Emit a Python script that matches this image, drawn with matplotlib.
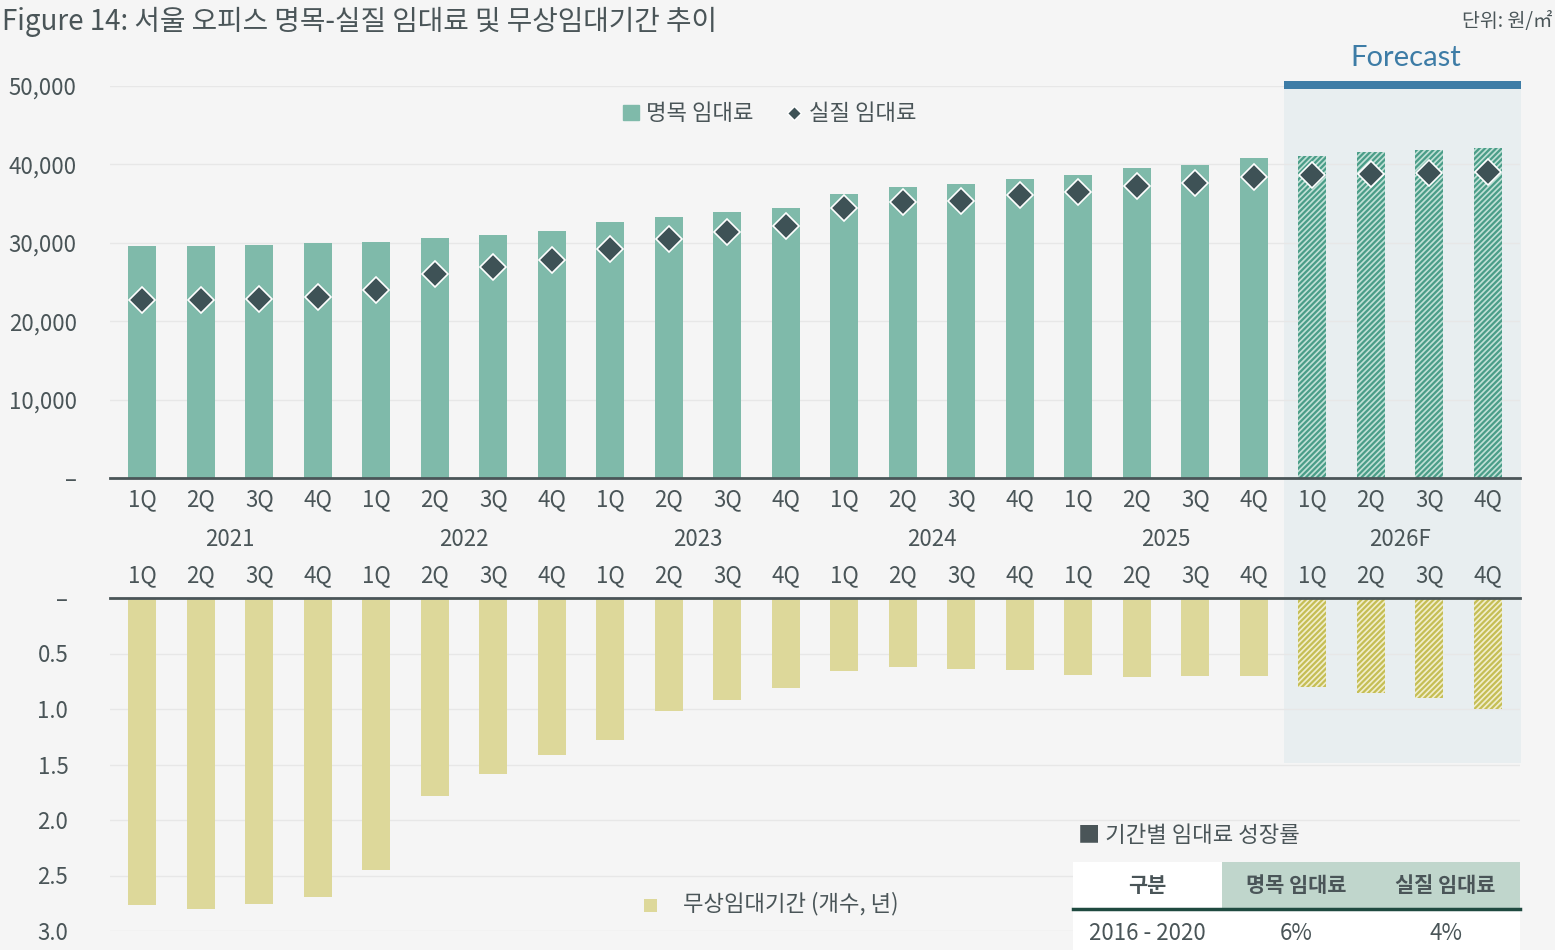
import matplotlib
matplotlib.use("Agg")
import matplotlib.pyplot as plt
from matplotlib.patches import Rectangle
from matplotlib.lines import Line2D
import numpy as np

plt.rcParams['font.family'] = ['Noto Sans CJK KR', 'DejaVu Sans']
plt.rcParams['hatch.linewidth'] = 1.6

# ---------------- data ----------------
years = ["2021", "2022", "2023", "2024", "2025", "2026F"]
quarters = ["1Q", "2Q", "3Q", "4Q"]
nominal_rent = [29600, 29600, 29700, 30000, 30100, 30600, 31000, 31500,
                32700, 33300, 33900, 34400, 36200, 37100, 37500, 38100,
                38600, 39500, 39900, 40800, 41100, 41600, 41800, 42100]
effective_rent = [22700, 22700, 22800, 23100, 24000, 26000, 26900, 27800,
                  29200, 30500, 31400, 32100, 34400, 35200, 35300, 36100,
                  36500, 37200, 37600, 38400, 38600, 38800, 38900, 39000]
rent_free = [2.77, 2.80, 2.76, 2.69, 2.45, 1.78, 1.59, 1.41,
             1.28, 1.02, 0.92, 0.81, 0.66, 0.62, 0.64, 0.65,
             0.69, 0.71, 0.70, 0.70, 0.80, 0.86, 0.90, 1.00]
n_forecast = 4
top_ticks = [0, 10000, 20000, 30000, 40000, 50000]
top_ticklabels = ["–", "10,000", "20,000", "30,000", "40,000", "50,000"]
bot_ticks = [0, 0.5, 1.0, 1.5, 2.0, 2.5, 3.0]
bot_ticklabels = ["–", "0.5", "1.0", "1.5", "2.0", "2.5", "3.0"]
table_header = ["구분", "명목 임대료", "실질 임대료"]
table_row = ["2016 - 2020", "6%", "4%"]

# ---------------- styling ----------------
BG = "#f5f5f5"
TXT = "#4a5558"
TEAL = "#7fbaaa"
TEAL_H = "#4a9d88"
TEAL_L = "#c0e0d6"
YEL = "#ddd89a"
YEL_H = "#c5be55"
YEL_L = "#f1eecc"
DIA = "#3e5256"
GRID = "#e7e7e7"
FC_BG = "#e8eef0"
FC_BLUE = "#3d7ca6"

W, H = 1555, 950
fig = plt.figure(figsize=(W / 100, H / 100), dpi=100, facecolor=BG)

def fx(px):
    return px / W

def fy(py):
    return 1 - py / H

# forecast shading (behind axes) and blue bar (above axes)
fig.patches.append(Rectangle((fx(1284), fy(763)), fx(1521) - fx(1284), fy(82) - fy(763),
                             transform=fig.transFigure, facecolor=FC_BG, edgecolor='none', zorder=-2))
fig.patches.append(Rectangle((fx(1284), fy(89)), fx(1521) - fx(1284), fy(81) - fy(89),
                             transform=fig.transFigure, facecolor=FC_BLUE, edgecolor='none', zorder=5))
fig.text(fx(1406), fy(58), "Forecast", color=FC_BLUE, fontsize=21, ha='center', va='center',
         family=['Lato', 'DejaVu Sans'])

n = len(nominal_rent)
x = np.arange(n)
ax_left, ax_right = 110, 1520
FS = 16

# ---------------- top axes ----------------
ax1 = fig.add_axes([fx(ax_left), fy(478), fx(ax_right) - fx(ax_left), fy(86) - fy(478)])
ax1.patch.set_alpha(0)
ax1.set_xlim(-0.55, n - 0.45)
ax1.set_ylim(0, 50000)
bw = 0.48
for i in range(n):
    if i < n - n_forecast:
        ax1.bar(x[i], nominal_rent[i], width=bw, color=TEAL, zorder=2)
    else:
        ax1.bar(x[i], nominal_rent[i], width=bw, facecolor=TEAL_L, edgecolor=TEAL_H,
                hatch='//////', linewidth=0, zorder=2)
ax1.plot(x, effective_rent, linestyle='none', marker='D', markersize=13,
         markerfacecolor=DIA, markeredgecolor='white', markeredgewidth=1.2, zorder=3)
ax1.set_yticks(top_ticks)
ax1.set_yticklabels(top_ticklabels)
ax1.yaxis.grid(True, color=GRID, linewidth=1)
ax1.set_axisbelow(True)
for s in ['top', 'right', 'left']:
    ax1.spines[s].set_visible(False)
ax1.spines['bottom'].set_color(TXT)
ax1.spines['bottom'].set_linewidth(2)
ax1.tick_params(axis='both', length=0, labelsize=FS, colors=TXT)
ax1.tick_params(axis='y', pad=24)
ax1.set_xticks(x)
ax1.set_xticklabels(quarters * len(years))
ax1.tick_params(axis='x', pad=7)
for k, yr in enumerate(years):
    ax1.text(4 * k + 1.5, -0.157, yr, transform=ax1.get_xaxis_transform(),
             ha='center', va='center', fontsize=FS, color=TXT)

# legend top
ax1.legend(handles=[Rectangle((0, 0), 1, 1, color=TEAL, label="명목 임대료"),
                    Line2D([], [], linestyle='none', marker='D', markersize=7,
                           markerfacecolor=DIA, markeredgecolor='white', label="실질 임대료")],
           loc='center', bbox_to_anchor=(0.468, 0.929), ncol=2, frameon=False,
           fontsize=16, labelcolor=TXT, handlelength=0.7, handleheight=0.7,
           handletextpad=0.3, columnspacing=1.5)

# ---------------- bottom axes ----------------
ax2 = fig.add_axes([fx(ax_left), fy(931), fx(ax_right) - fx(ax_left), fy(598) - fy(931)])
ax2.patch.set_alpha(0)
ax2.set_xlim(-0.55, n - 0.45)
ax2.set_ylim(3.0, 0)
for i in range(n):
    if i < n - n_forecast:
        ax2.bar(x[i], rent_free[i], width=bw, color=YEL, zorder=2)
    else:
        ax2.bar(x[i], rent_free[i], width=bw, facecolor=YEL_L, edgecolor=YEL_H,
                hatch='//////', linewidth=0, zorder=2)
ax2.set_yticks(bot_ticks)
ax2.set_yticklabels(bot_ticklabels)
ax2.yaxis.grid(True, color=GRID, linewidth=1)
ax2.set_axisbelow(True)
for s in ['bottom', 'right', 'left']:
    ax2.spines[s].set_visible(False)
ax2.spines['top'].set_color(TXT)
ax2.spines['top'].set_linewidth(2)
ax2.xaxis.tick_top()
ax2.set_xticks(x)
ax2.set_xticklabels(quarters * len(years))
ax2.tick_params(axis='both', length=0, labelsize=FS, colors=TXT)
ax2.tick_params(axis='y', pad=30)
ax2.tick_params(axis='x', pad=8)

# bottom legend
fig.patches.append(Rectangle((fx(644), fy(912)), fx(13), fy(0) - fy(13), transform=fig.transFigure,
                             facecolor=YEL, edgecolor='none'))
fig.text(fx(683), fy(904), "무상임대기간 (개수, 년)", fontsize=16, color=TXT, ha='left', va='center')

# ---------------- table ----------------
fig.text(fx(1078), fy(836), "■ 기간별 임대료 성장률", fontsize=16, color=TXT, ha='left', va='center')
col_x = [1073, 1222, 1371, 1520]
fig.patches.append(Rectangle((fx(1073), fy(908)), fx(1222) - fx(1073), fy(862) - fy(908),
                             transform=fig.transFigure, facecolor='white', edgecolor='none'))
fig.patches.append(Rectangle((fx(1222), fy(908)), fx(1520) - fx(1222), fy(862) - fy(908),
                             transform=fig.transFigure, facecolor='#c0d6cc', edgecolor='none'))
fig.patches.append(Rectangle((fx(1073), fy(950)), fx(1520) - fx(1073), fy(910) - fy(950),
                             transform=fig.transFigure, facecolor='white', edgecolor='none'))
fig.add_artist(Line2D([fx(1073), fx(1520)], [fy(909), fy(909)], transform=fig.transFigure,
                      color='#1f4a40', linewidth=2.5))
for j in range(3):
    cx = (col_x[j] + col_x[j + 1]) / 2
    fig.text(fx(cx), fy(885), table_header[j], fontsize=15, fontweight='bold', color=TXT,
             ha='center', va='center')
    fig.text(fx(cx), fy(934), table_row[j], fontsize=16, color=TXT, ha='center', va='center',
             fontweight='medium' if j == 0 else 'normal')

# ---------------- titles ----------------
fig.text(fx(2), fy(22), "Figure 14: 서울 오피스 명목-실질 임대료 및 무상임대기간 추이",
         fontsize=20, color=TXT, ha='left', va='center')
fig.text(fx(1552), fy(22), "단위: 원/㎡", fontsize=14, color=TXT, ha='right', va='center')

fig.savefig("out.png", dpi=100, facecolor=BG)
